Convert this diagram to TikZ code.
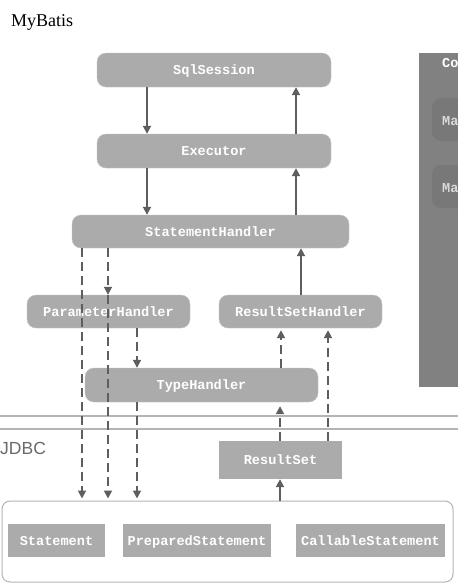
\documentclass[tikz,border=0pt]{standalone}
\usepackage{fontspec}
\setmainfont{Liberation Serif}
\setmonofont{Liberation Mono}
\newfontfamily\sansf{Liberation Sans}
\usetikzlibrary{arrows.meta,calc}
\definecolor{boxgray}{HTML}{ABABAB}
\definecolor{linegray}{HTML}{5E5E5E}
\definecolor{panelgray}{HTML}{818181}
\definecolor{innergray}{HTML}{787878}
\definecolor{sepgray}{HTML}{B4B4B4}
\definecolor{labelgray}{HTML}{6A6A6A}
\tikzset{
  boxfont/.style={font=\fontsize{13.6}{15}\selectfont\ttfamily\bfseries, text height=10pt, text depth=0.5pt},
  comp/.style={boxfont, fill=boxgray, draw=boxgray!70!white, rounded corners=9pt, text=white, inner sep=0pt},
  sqbox/.style={boxfont, fill=boxgray, draw=none, text=white, inner sep=0pt},
  flow/.style={draw=linegray, line width=1.8pt, -{Triangle[width=8pt,length=8pt]}},
  dflow/.style={flow, dash pattern=on 9pt off 5pt},
}
\begin{document}
\begin{tikzpicture}[x=1pt,y=-1pt]
\useasboundingbox (0,0) rectangle (458,584);
\fill[white] (0,0) rectangle (458,584);
% title
\node[anchor=west, font=\fontsize{18}{20}\selectfont, inner sep=0pt] (title) at (11,22) {MyBatis};
% right panel (cut off)
\begin{scope}
\clip (0,0) rectangle (458,584);
\fill[panelgray] (419,53) rectangle (470,387);
\fill[innergray, rounded corners=9pt] (432,98) rectangle (480,141);
\fill[innergray, rounded corners=9pt] (432,165) rectangle (480,208);
\node[anchor=west, boxfont, text=white, inner sep=0pt] (conf) at (442,63) {Co};
\node[anchor=west, boxfont, text=white!85!black, inner sep=0pt] (ma1) at (442,121) {Ma};
\node[anchor=west, boxfont, text=white!85!black, inner sep=0pt] (ma2) at (442,188) {Ma};
\end{scope}
% separators
\draw[sepgray, line width=1.4pt] (0,416) -- (458,416);
\draw[sepgray, line width=1.2pt] (0,429) -- (458,429);
\node[anchor=west, text=labelgray, font=\fontsize{17.5}{19}\sansf, inner sep=0pt] (jdbc) at (0,448) {JDBC};
% mybatis layer
\node[comp, minimum width=234, minimum height=34] (sql) at (214,70) {SqlSession};
\node[comp, minimum width=234, minimum height=34] (exe) at (214,151) {Executor};
\node[comp, minimum width=277, minimum height=33] (sh) at (210.5,231.5) {StatementHandler};
\node[comp, minimum width=163, minimum height=33] (ph) at (108.5,311.5) {ParameterHandler};
\node[comp, minimum width=163, minimum height=33] (rsh) at (300.5,311.5) {ResultSetHandler};
\node[comp, minimum width=233, minimum height=34] (th) at (201.5,385) {TypeHandler};
% jdbc layer
\node[sqbox, minimum width=123, minimum height=38] (rs) at (280.5,460) {ResultSet};
\node[draw=sepgray, line width=1pt, fill=white, rounded corners=8pt, minimum width=451, minimum height=81, inner sep=0pt] (jdbcbox) at (227.5,541.5) {};
\node[sqbox, minimum width=97, minimum height=33] (st) at (56.5,540.5) {Statement};
\node[sqbox, minimum width=148, minimum height=33] (pst) at (197,540.5) {PreparedStatement};
\node[sqbox, minimum width=149, minimum height=33] (cst) at (370.5,540.5) {CallableStatement};
% solid flows
\draw[flow] (147,0 |- sql.south) -- (147,0 |- exe.north);
\draw[flow] (296,0 |- exe.north) -- (296,0 |- sql.south);
\draw[flow] (147,0 |- exe.south) -- (147,0 |- sh.north);
\draw[flow] (296,0 |- sh.north) -- (296,0 |- exe.south);
\draw[flow] (301,0 |- rsh.north) -- (301,0 |- sh.south);
\draw[flow] (280,0 |- jdbcbox.north) -- (280,0 |- rs.south);
% dashed flows
\draw[dflow] (82,0 |- sh.south) -- ($(82,0 |- jdbcbox.north)+(0,-2)$);
\draw[dflow] (108,0 |- sh.south) -- (108,0 |- ph.north);
\draw[dflow] (108,0 |- ph.north) -- ($(108,0 |- jdbcbox.north)+(0,-2)$);
\draw[dflow] (137,0 |- ph.south) -- (137,0 |- th.north);
\draw[dflow] (137,0 |- th.south) -- ($(137,0 |- jdbcbox.north)+(0,-2)$);
\draw[dflow] (281,0 |- th.north) -- ($(281,0 |- rsh.south)+(0,2)$);
\draw[dflow] (328,0 |- rs.north) -- ($(328,0 |- rsh.south)+(0,2)$);
\draw[dflow] (280,0 |- rs.north) -- ($(280,0 |- th.south)+(0,4)$);
\end{tikzpicture}
\end{document}
